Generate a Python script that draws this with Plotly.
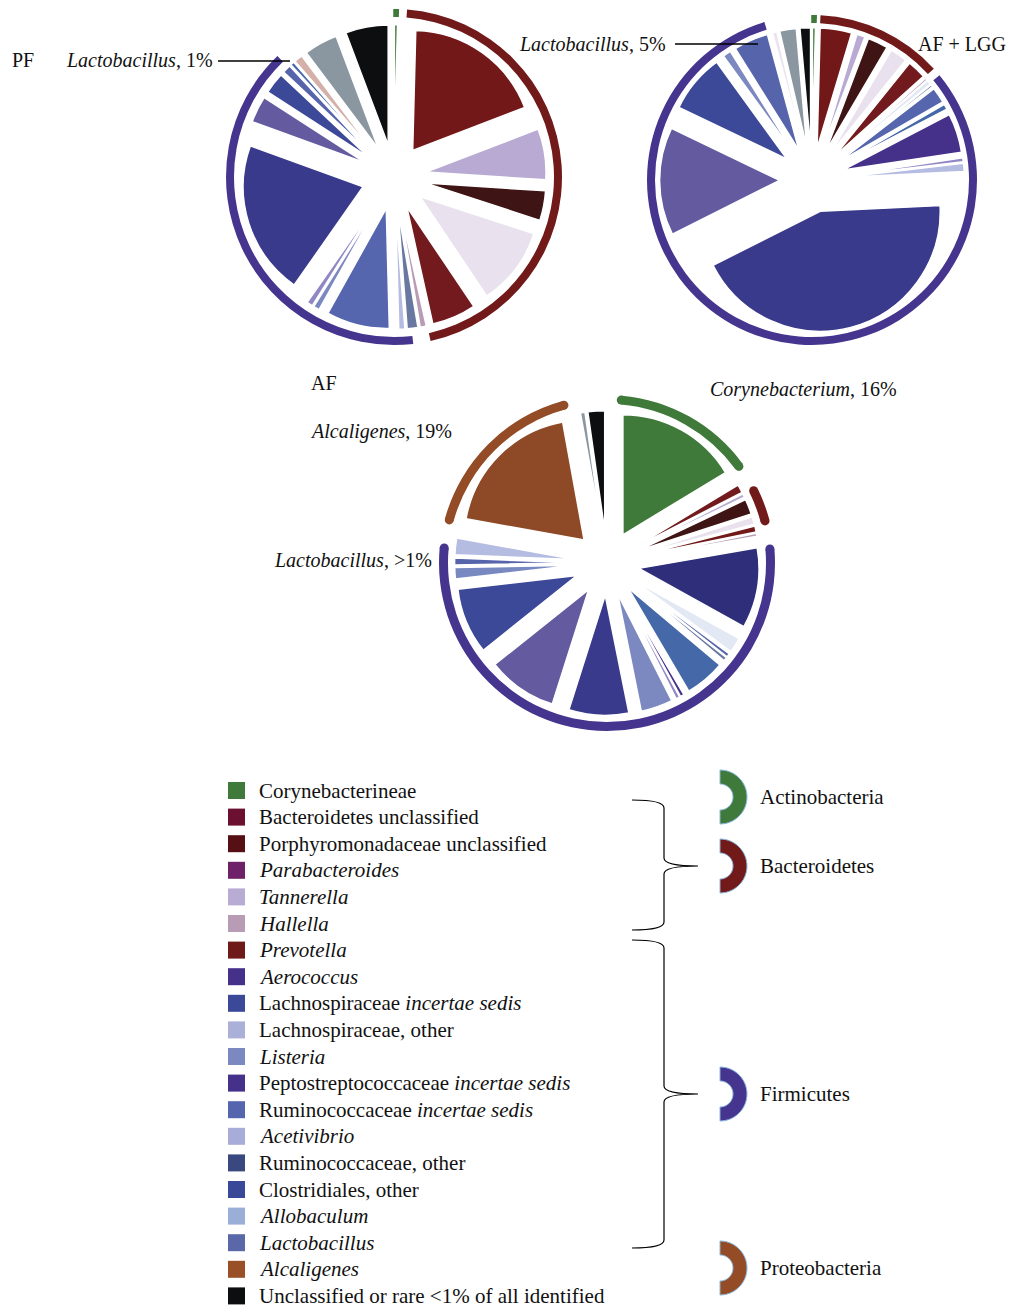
import plotly.graph_objects as go
import math

W, H = 1013, 1307

# ---------------- data ----------------
pf_labels = ["Corynebacterineae", "Prevotella", "Tannerella", "Porphyromonadaceae unclassified",
             "Bacteroidales, other", "Bacteroidetes unclassified", "Hallella", "Clostridia, other",
             "Lachnospiraceae, other", "Ruminococcaceae incertae sedis", "Listeria", "Acetivibrio",
             "Aerococcus", "Clostridiales, other", "Lachnospiraceae incertae sedis", "Lactobacillus",
             "Allobaculum", "Rare, other", "Other", "Unclassified or rare"]
pf_values = [0.4, 18.3, 6.7, 3.9, 10.3, 5.8, 0.8, 1.4, 0.8, 8.3, 0.8, 0.8,
             20.3, 3.5, 2.8, 1.1, 0.5, 1.1, 4.4, 5.6]

lgg_labels = ["Corynebacterineae", "Prevotella", "Tannerella", "Porphyromonadaceae unclassified",
              "Bacteroidales, other", "Bacteroidetes unclassified", "Hallella", "Firmicutes, other",
              "Clostridia, other", "Ruminococcaceae incertae sedis", "Allobaculum",
              "Peptostreptococcaceae incertae sedis", "Acetivibrio", "Lachnospiraceae, other",
              "Aerococcus", "Clostridiales, other", "Lachnospiraceae incertae sedis", "Listeria",
              "Lactobacillus", "Unassigned", "Other", "Unclassified or rare"]
lgg_values = [0.4, 4.2, 1.1, 2.7, 2.3, 2.5, 0.3, 0.6, 0.3, 2.1, 0.7, 5.2, 0.5, 1.1,
              42.9, 14.4, 7.8, 1.1, 4.6, 0.6, 2.2, 1.4]

af_labels = ["Corynebacterineae", "Bacteroidetes unclassified", "Tannerella",
             "Porphyromonadaceae unclassified", "Bacteroidales, other", "Prevotella", "Hallella",
             "Ruminococcaceae, other", "Firmicutes, other", "Ruminococcaceae incertae sedis",
             "Clostridia, other", "Allobaculum", "Peptostreptococcaceae incertae sedis", "Acetivibrio",
             "Listeria", "Aerococcus", "Clostridiales, other", "Lachnospiraceae incertae sedis",
             "Bacilli, other", "Lactobacillus", "Lachnospiraceae, other", "Alcaligenes", "Other",
             "Unclassified or rare"]
af_values = [16.0, 1.1, 0.5, 2.0, 1.0, 0.8, 0.4, 10.6, 2.0, 0.5, 0.5, 5.3, 0.5, 0.5,
             4.2, 7.9, 9.2, 8.7, 1.5, 0.9, 2.2, 18.9, 0.6, 2.2]

phylum_of = {
    "Corynebacterineae": "Actinobacteria",
    "Bacteroidetes unclassified": "Bacteroidetes", "Porphyromonadaceae unclassified": "Bacteroidetes",
    "Parabacteroides": "Bacteroidetes", "Tannerella": "Bacteroidetes", "Hallella": "Bacteroidetes",
    "Prevotella": "Bacteroidetes", "Bacteroidales, other": "Bacteroidetes",
    "Aerococcus": "Firmicutes", "Lachnospiraceae incertae sedis": "Firmicutes",
    "Lachnospiraceae, other": "Firmicutes", "Listeria": "Firmicutes",
    "Peptostreptococcaceae incertae sedis": "Firmicutes", "Ruminococcaceae incertae sedis": "Firmicutes",
    "Acetivibrio": "Firmicutes", "Ruminococcaceae, other": "Firmicutes",
    "Clostridiales, other": "Firmicutes", "Allobaculum": "Firmicutes", "Lactobacillus": "Firmicutes",
    "Firmicutes, other": "Firmicutes", "Clostridia, other": "Firmicutes", "Bacilli, other": "Firmicutes",
    "Alcaligenes": "Proteobacteria",
}

legend_labels = ["Corynebacterineae", "Bacteroidetes unclassified", "Porphyromonadaceae unclassified",
                 "<i>Parabacteroides</i>", "<i>Tannerella</i>", "<i>Hallella</i>", "<i>Prevotella</i>",
                 "<i>Aerococcus</i>", "Lachnospiraceae <i>incertae sedis</i>", "Lachnospiraceae, other",
                 "<i>Listeria</i>", "Peptostreptococcaceae <i>incertae sedis</i>",
                 "Ruminococcaceae <i>incertae sedis</i>", "<i>Acetivibrio</i>", "Ruminococcaceae, other",
                 "Clostridiales, other", "<i>Allobaculum</i>", "<i>Lactobacillus</i>", "<i>Alcaligenes</i>",
                 "Unclassified or rare &lt;1% of all identified"]
legend_colors = ["#3f7a3a", "#6b1030", "#560f14", "#6e2068", "#b9acd4", "#b89cb6", "#6e1a18",
                 "#45308a", "#3c4898", "#aab0d8", "#7c88c0", "#45308a", "#5566ae", "#a8acd8",
                 "#3a4880", "#3a4898", "#9aaed8", "#5a68aa", "#9a5026", "#0c0e10"]

phyla = ["Actinobacteria", "Bacteroidetes", "Firmicutes", "Proteobacteria"]

# ---------------- styles ----------------
slice_color = {
    "Corynebacterineae": "#3f7a3a", "Bacteroidetes unclassified": "#721a1e",
    "Porphyromonadaceae unclassified": "#3e1414", "Parabacteroides": "#6e2068",
    "Tannerella": "#b8aad2", "Hallella": "#b89cb6", "Prevotella": "#721818",
    "Bacteroidales, other": "#e9e1ed", "Aerococcus": "#3a3a8c",
    "Lachnospiraceae incertae sedis": "#3c4898", "Lachnospiraceae, other": "#b4bce2",
    "Listeria": "#7c88c0", "Peptostreptococcaceae incertae sedis": "#45308a",
    "Ruminococcaceae incertae sedis": "#5566ae", "Acetivibrio": "#9088c4",
    "Ruminococcaceae, other": "#2e2e7a", "Clostridiales, other": "#635aa0",
    "Allobaculum": "#4468a8", "Lactobacillus": "#5664ac", "Alcaligenes": "#8e4a26",
    "Unclassified or rare": "#0c0e10", "Other": "#8a96a0", "Rare, other": "#d4b0a8",
    "Unassigned": "#ebe3ee", "Firmicutes, other": "#e2e8f4", "Clostridia, other": "#6878a0",
    "Bacilli, other": "#7888c0",
}
phylum_color = {"Actinobacteria": "#3f7a3a", "Bacteroidetes": "#721a1a",
                "Firmicutes": "#45358e", "Proteobacteria": "#934c26"}

FONT = "Liberation Serif"
R_SLICE = 120.0
PULL = 0.27

pies = [
    dict(labels=pf_labels, values=pf_values, cx=394, cy=177, rout=168, rin=160, inset=3.0, round=False),
    dict(labels=lgg_labels, values=lgg_values, cx=812, cy=180, rout=165, rin=157, inset=1.5, round=False),
    dict(labels=af_labels, values=af_values, cx=607, cy=563, rout=168, rin=159, inset=5.0, round=True),
]


def px(x):
    return x / W


def py(y):
    return 1 - y / H


fig = go.Figure()
polar_layout = {}
for k, p in enumerate(pies):
    half = R_SLICE * (1 + PULL)
    fig.add_trace(go.Pie(
        labels=p["labels"], values=p["values"], sort=False, direction="clockwise", rotation=0,
        pull=[PULL] * len(p["values"]),
        marker=dict(colors=[slice_color[l] for l in p["labels"]], line=dict(color="white", width=1.5)),
        textinfo="none", showlegend=False, hoverinfo="label+percent",
        domain=dict(x=[px(p["cx"] - half), px(p["cx"] + half)],
                    y=[py(p["cy"] + half), py(p["cy"] - half)]),
    ))
    # phylum ring from consecutive groups
    total = sum(p["values"])
    groups = []
    acc = 0.0
    for lab, v in zip(p["labels"], p["values"]):
        ph = phylum_of.get(lab)
        a0, a1 = acc / total * 360, (acc + v) / total * 360
        if groups and groups[-1][0] == ph:
            groups[-1][2] = a1
        else:
            groups.append([ph, a0, a1])
        acc += v
    th, wd, cols = [], [], []
    ends_t, ends_c = [], []
    for ph, a0, a1 in groups:
        if ph is None:
            continue
        span = max(a1 - a0 - 2 * p["inset"], 2.0)
        mid = (a0 + a1) / 2
        th.append(mid)
        wd.append(span)
        cols.append(phylum_color[ph])
        ends_t += [mid - span / 2, mid + span / 2]
        ends_c += [phylum_color[ph]] * 2
    sub = "polar" if k == 0 else f"polar{k + 1}"
    fig.add_trace(go.Barpolar(
        theta=th, width=wd, base=[p["rin"]] * len(th), r=[p["rout"] - p["rin"]] * len(th),
        marker=dict(color=cols, line=dict(width=0)), subplot=sub, showlegend=False,
        hoverinfo="skip",
    ))
    if p["round"]:
        fig.add_trace(go.Scatterpolar(
            theta=ends_t, r=[(p["rin"] + p["rout"]) / 2] * len(ends_t), mode="markers",
            marker=dict(color=ends_c, size=p["rout"] - p["rin"], line=dict(width=0)),
            subplot=sub, showlegend=False, hoverinfo="skip",
        ))
    R = p["rout"] + 6
    polar_layout[sub] = dict(
        domain=dict(x=[px(p["cx"] - R), px(p["cx"] + R)], y=[py(p["cy"] + R), py(p["cy"] - R)]),
        bgcolor="rgba(0,0,0,0)",
        radialaxis=dict(range=[0, R], visible=False),
        angularaxis=dict(direction="clockwise", rotation=90, visible=False),
    )

annotations = []
shapes = []


def text(x, y, s, size=21, anchor="left"):
    annotations.append(dict(x=px(x), y=py(y), xref="paper", yref="paper", text=s, showarrow=False,
                            xanchor=anchor, yanchor="middle",
                            font=dict(family=FONT, size=size, color="#111")))


text(10, 60, "PF", 20)
text(64, 60, "<i>Lactobacillus</i>, 1%", 20)
text(517, 44, "<i>Lactobacillus</i>, 5%", 20)
text(1008, 44, "AF + LGG", 20, anchor="right")
text(309, 383, "AF", 20)
text(308, 431, "<i>Alcaligenes</i>, 19%", 20)
text(272, 560, "<i>Lactobacillus</i>, &gt;1%", 20)
text(708, 390, "<i>Corynebacterium</i>, 16%", 20)

for (x0, x1, y) in [(218, 290, 61), (675, 758, 44)]:
    shapes.append(dict(type="line", xref="paper", yref="paper", x0=px(x0), x1=px(x1), y0=py(y), y1=py(y),
                       line=dict(color="black", width=1.3)))

# legend
for i, (lab, col) in enumerate(zip(legend_labels, legend_colors)):
    yc = 790.5 + i * 26.6
    shapes.append(dict(type="rect", xref="paper", yref="paper", x0=px(228), x1=px(245),
                       y0=py(yc + 8.5), y1=py(yc - 8.5), fillcolor=col, line=dict(width=0)))
    text(257, yc, lab)


def pth(points, cmds):
    out = []
    for c, pt in zip(cmds, points):
        out.append(c + " " + " ".join(f"{px(a):.5f},{py(b):.5f}" for a, b in pt))
    return " ".join(out)


def brace(y0, ym, y1):
    pts = [[(632, y0)], [(664, y0), (664, y0 + 8)], [(664, ym - 8)], [(664, ym), (698, ym)],
           [(664, ym), (664, ym + 8)], [(664, y1 - 8)], [(664, y1), (632, y1)]]
    cmds = ["M", "Q", "L", "Q", "Q", "L", "Q"]
    return pth(pts, cmds)


for (a, b, c) in [(800, 866, 930), (940, 1094, 1248)]:
    shapes.append(dict(type="path", xref="paper", yref="paper", path=brace(a, b, c),
                       line=dict(color="black", width=1.2)))

icon_y = [797, 866, 1094, 1268]
for ph, yc in zip(phyla, icon_y):
    n = 30
    pts = []
    for j in range(n + 1):
        t = -math.pi / 2 + math.pi * j / n
        pts.append((720 + 27 * math.cos(t), yc + 27 * math.sin(t)))
    for j in range(n + 1):
        t = math.pi / 2 - math.pi * j / n
        pts.append((720 + 13 * math.cos(t), yc + 13 * math.sin(t)))
    path = "M " + " L ".join(f"{px(a):.5f},{py(b):.5f}" for a, b in pts) + " Z"
    shapes.append(dict(type="path", xref="paper", yref="paper", path=path,
                       fillcolor=phylum_color[ph], line=dict(color="#8ab8e0", width=1)))
    text(758, yc, ph)

fig.update_layout(
    width=W, height=H, margin=dict(l=0, r=0, t=0, b=0), paper_bgcolor="white",
    plot_bgcolor="white", annotations=annotations, shapes=shapes, **polar_layout,
)
fig.write_html("out.html", config={"displayModeBar": False},
               post_script="document.body.style.margin='0';document.body.style.overflow='hidden';")
